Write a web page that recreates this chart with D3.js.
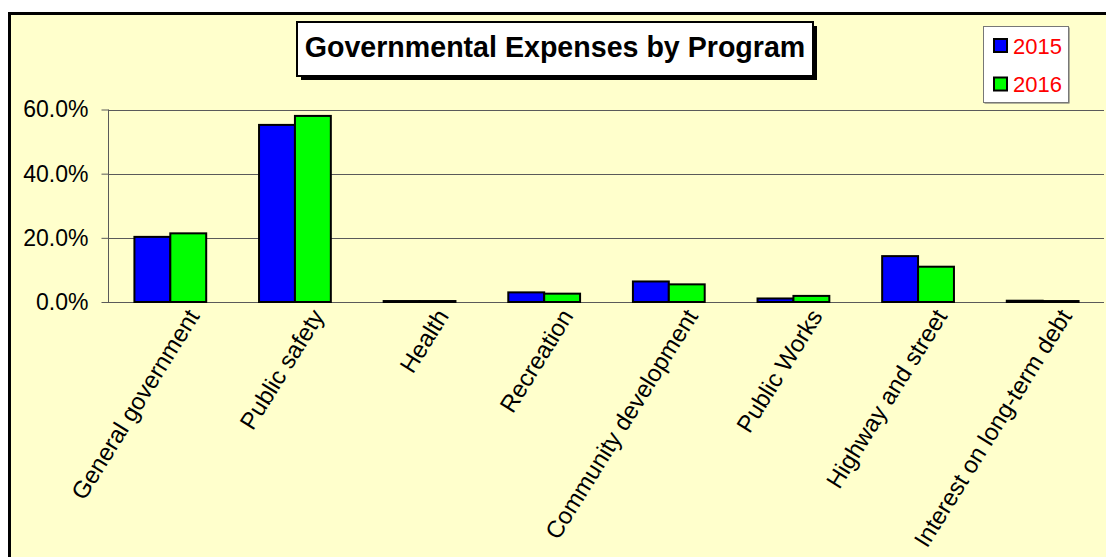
<!DOCTYPE html>
<html>
<head>
<meta charset="utf-8">
<script src="https://cdn.jsdelivr.net/npm/d3@7"></script>
<style>
  html, body { margin: 0; padding: 0; background: #ffffff; }
  svg { display: block; font-family: Arial, "Liberation Sans", sans-serif; }
</style>
</head>
<body>
<svg id="chart" width="1106" height="557"></svg>
<script>
const categories = ["General government", "Public safety", "Health", "Recreation",
  "Community development", "Public Works", "Highway and street", "Interest on long-term debt"];
const seriesNames = ["2015", "2016"];
const values2015 = [20.3, 55.2, 0.3, 3.0, 6.4, 1.1, 14.3, 0.4];
const values2016 = [21.4, 58.0, 0.3, 2.6, 5.5, 1.9, 11.0, 0.3];
const yTicks = [0, 20, 40, 60];
const seriesColors = ["#0000FF", "#00FF00"];
const titleText = "Governmental Expenses by Program";

const svg = d3.select("#chart");
const W = 1106, H = 557;

// chart area background + border
svg.append("rect").attr("x", 9.5).attr("y", 13.5).attr("width", W + 10).attr("height", H + 10)
  .attr("fill", "#FFFFCC").attr("stroke", "#000").attr("stroke-width", 3);

const plot = { left: 108, right: 1105, top: 109.5, bottom: 302 };

const x0 = d3.scaleBand().domain(categories).range([plot.left, plot.right])
  .paddingInner(0.424).paddingOuter(0.212);
const x1 = d3.scaleBand().domain(seriesNames).range([0, x0.bandwidth()]);
const y = d3.scaleLinear().domain([0, 60]).range([plot.bottom, plot.top]);

// gridlines
svg.append("g").selectAll("line").data(yTicks).join("line")
  .attr("x1", plot.left).attr("x2", 1104)
  .attr("y1", d => Math.round(y(d)) + 0.5).attr("y2", d => Math.round(y(d)) + 0.5)
  .attr("stroke", "#5a5a5a").attr("stroke-width", 1);

// y axis
const yAxis = d3.axisLeft(y).tickValues(yTicks).tickSize(7).tickPadding(13)
  .tickFormat(d => d3.format(".1f")(d) + "%");
const ya = svg.append("g").attr("transform", `translate(${plot.left + 0.5},0)`).call(yAxis);
ya.select(".domain").attr("stroke", "#5a5a5a").attr("d", `M0,${plot.top}V${plot.bottom}`);
ya.selectAll(".tick line").attr("stroke", "#5a5a5a");
ya.selectAll(".tick text").attr("font-size", 23).attr("fill", "#000")
  .attr("font-family", "Arial, 'Liberation Sans', sans-serif");

// bars
const data = categories.map((c, i) => ({ cat: c, vals: [values2015[i], values2016[i]] }));
const groups = svg.append("g").selectAll("g").data(data).join("g")
  .attr("transform", d => `translate(${x0(d.cat)},0)`);
groups.selectAll("rect").data(d => d.vals.map((v, j) => ({ v, s: seriesNames[j], j })))
  .join("rect")
  .attr("x", d => x1(d.s))
  .attr("y", d => y(d.v))
  .attr("width", x1.bandwidth())
  .attr("height", d => y(0) - y(d.v))
  .attr("fill", d => seriesColors[d.j])
  .attr("stroke", "#000").attr("stroke-width", 2);

// x axis labels (rotated)
svg.append("g").selectAll("text").data(categories).join("text")
  .attr("transform", d => `translate(${x0(d) + x0.bandwidth() / 2 + 30},316) rotate(-58)`)
  .attr("text-anchor", "end")
  .attr("font-size", 24)
  .attr("fill", "#000")
  .text(d => d);

// title box
const tb = { x: 297, y: 22, w: 516, h: 54 };
svg.append("rect").attr("x", tb.x + 4).attr("y", tb.y + 4).attr("width", tb.w).attr("height", tb.h)
  .attr("fill", "#000");
svg.append("rect").attr("x", tb.x).attr("y", tb.y).attr("width", tb.w).attr("height", tb.h)
  .attr("fill", "#fff").attr("stroke", "#000").attr("stroke-width", 2);
svg.append("text").attr("x", tb.x + tb.w / 2).attr("y", 57)
  .attr("text-anchor", "middle").attr("font-size", 28.6).attr("font-weight", "bold")
  .attr("fill", "#000").text(titleText);

// legend
const lg = { x: 983.5, y: 26.5, w: 85, h: 76 };
svg.append("rect").attr("x", lg.x + 1).attr("y", lg.y + 1).attr("width", lg.w).attr("height", lg.h)
  .attr("fill", "#666");
svg.append("rect").attr("x", lg.x).attr("y", lg.y).attr("width", lg.w).attr("height", lg.h)
  .attr("fill", "#fff").attr("stroke", "#777").attr("stroke-width", 1);
const legendItems = svg.append("g").selectAll("g").data(seriesNames).join("g")
  .attr("transform", (d, i) => `translate(${lg.x},${lg.y + 12 + i * 38.5})`);
legendItems.append("rect").attr("x", 10.5).attr("y", 0.5).attr("width", 13).attr("height", 13)
  .attr("fill", (d, i) => seriesColors[i]).attr("stroke", "#000").attr("stroke-width", 2);
legendItems.append("text").attr("x", 29.5).attr("y", 15)
  .attr("font-size", 22).attr("fill", "#FF0000").text(d => d);
</script>
</body>
</html>
